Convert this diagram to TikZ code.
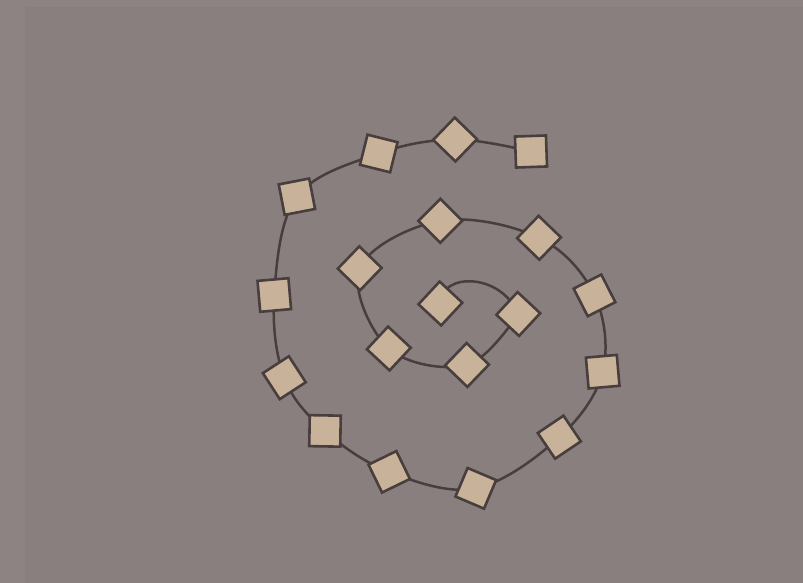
\documentclass[tikz,border=0pt]{standalone}
\usetikzlibrary{backgrounds}
\definecolor{bgmain}{HTML}{8A7F7F}
\definecolor{bgedge}{HTML}{8E8383}
\definecolor{tanfill}{HTML}{C8B39A}
\definecolor{inkline}{HTML}{473E3D}
\tikzset{
  tile/.style={draw=inkline, fill=tanfill, line width=2.6pt, minimum size=31pt, inner sep=0pt, shape=rectangle},
  spiral/.style={draw=inkline, line width=2.5pt}
}
\begin{document}
\begin{tikzpicture}[x=1pt,y=-1pt]
\useasboundingbox (0,0) rectangle (803,583);
\begin{scope}[on background layer]
\fill[bgedge] (0,0) rectangle (803,583);
\fill[bgmain] (25,7) rectangle (803,583);
\end{scope}
\node[tile, rotate=47] (n1) at (440.4,303.5) {};
\node[tile, rotate=47] (n2) at (518.3,314) {};
\node[tile, rotate=46] (n3) at (467,365) {};
\node[tile, rotate=47] (n4) at (388.8,348.5) {};
\node[tile, rotate=46] (n5) at (359.7,268.3) {};
\node[tile, rotate=45] (n6) at (440.3,220.8) {};
\node[tile, rotate=46] (n7) at (539,237.8) {};
\node[tile, rotate=27] (n8) at (594.5,295.4) {};
\node[tile, rotate=5] (n9) at (602.7,371.7) {};
\node[tile, rotate=34] (n10) at (559.3,437.2) {};
\node[tile, rotate=-23] (n11) at (475.8,488.3) {};
\node[tile, rotate=26] (n12) at (389.2,471.8) {};
\node[tile, rotate=-1] (n13) at (325,430.9) {};
\node[tile, rotate=33] (n14) at (284.3,377.7) {};
\node[tile, rotate=5] (n15) at (274.3,295) {};
\node[tile, rotate=11] (n16) at (296.9,196.7) {};
\node[tile, rotate=-14] (n17) at (378.8,153.5) {};
\node[tile, rotate=46] (n18) at (455.1,139.5) {};
\node[tile, rotate=2] (n19) at (531,151.5) {};
\begin{scope}[on background layer]
\draw[spiral] (n1.center) .. controls +(0,-31) and +(-18,-42) .. (n2.center);
\draw[spiral] plot[smooth, tension=0.6] coordinates {(n2) (n3) (n4) (n5) (n6) (n7) (n8) (n9) (n10) (n11) (n12) (n13) (n14) (n15) (n16) (n17) (n18) (n19)};
\end{scope}
\end{tikzpicture}
\end{document}
